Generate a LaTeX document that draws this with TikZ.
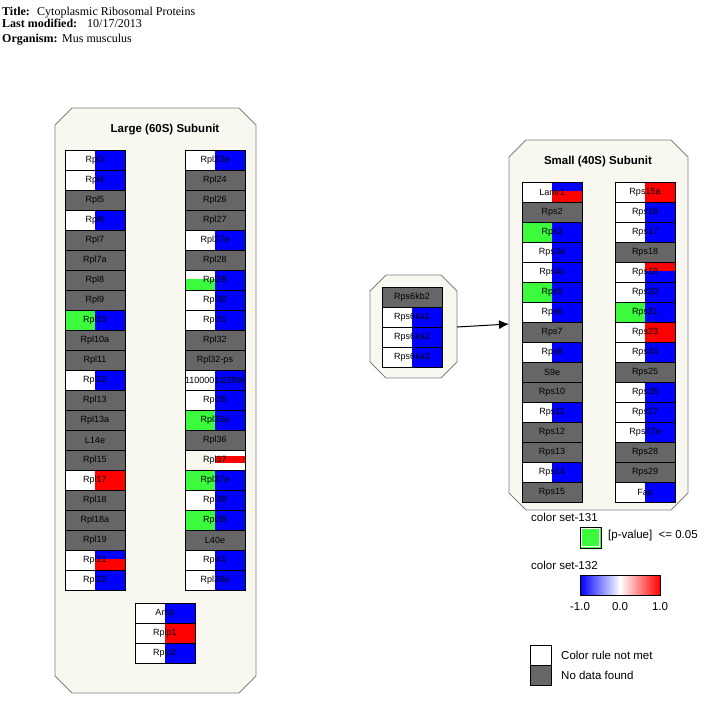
\documentclass[tikz,border=0pt]{standalone}
\usepackage{fontspec}
\setmainfont{Liberation Serif}
\setsansfont{Liberation Sans}
\usetikzlibrary{arrows.meta}
\definecolor{cG}{RGB}{102,102,102}
\definecolor{cN}{RGB}{60,250,60}
\definecolor{cB}{RGB}{0,0,255}
\definecolor{cR}{RGB}{255,0,0}
\definecolor{cW}{RGB}{255,255,255}
\definecolor{boxfill}{RGB}{248,247,240}
\definecolor{boxline}{RGB}{130,130,130}
\newcommand\octbox[5]{%
  \draw[groupbox] ({#1+#5},#2) -- ({#3-#5},#2) -- (#3,{#2+#5}) -- (#3,{#4-#5}) -- ({#3-#5},#4) -- ({#1+#5},#4) -- (#1,{#4-#5}) -- (#1,{#2+#5}) -- cycle;}
\newcommand\cellcol[3]{%
  \foreach \n/\l/\r [count=\i from 0] in {#3} {
    \fill[fill=\l] (#1,{#2+20*\i}) rectangle ++(30,20);
    \fill[fill=\r] ({#1+30},{#2+20*\i}) rectangle ++(30,20);
  }
  \foreach \n/\l/\r [count=\i from 0] in {#3} {
    \draw[black, line width=1.3pt] ({#1+60.8},{#2+20*\i}) -- ++(0,20.8) -- ++(-59.5,0);
    \draw[cellborder] (#1,{#2+20*\i}) rectangle ++(60,20);
    \node[celltext] (\n) at ({#1+30},{#2+20*\i+10}) {\n};
  }}
\begin{document}
\begin{tikzpicture}[x=1pt,y=-1pt,
  celltext/.style={font=\sffamily\fontsize{9}{10}\selectfont, inner sep=0pt, text=black},
  cellborder/.style={draw=black, line width=0.7pt},
  groupbox/.style={fill=boxfill, draw=boxline, line width=0.8pt},
  headlbl/.style={font=\bfseries\fontsize{12}{13}\selectfont, anchor=base west, inner sep=0pt},
  headval/.style={font=\fontsize{12}{13}\selectfont, anchor=base west, inner sep=0pt},
  boxtitle/.style={font=\sffamily\bfseries\fontsize{11.5}{13}\selectfont, inner sep=0pt},
  legtext/.style={font=\sffamily\fontsize{11.5}{13}\selectfont, inner sep=0pt},
  legbox/.style={draw=black, line width=0.8pt}]
\useasboundingbox[fill=white] (0,0) rectangle (717,705);

% header
\node[headlbl] (tl) at (2,15) {Title:};
\node[headval] (tv) at (37,15) {Cytoplasmic Ribosomal Proteins};
\node[headlbl] (ml) at (2,27) {Last modified:};
\node[headval] (mv) at (87,27) {10/17/2013};
\node[headlbl] (ol) at (2,42.5) {Organism:};
\node[headval] (ov) at (62,42.5) {Mus musculus};

% group boxes
\octbox{55}{108}{256}{693}{17}
\octbox{370}{275}{457}{378}{16}
\octbox{509}{140}{688}{510}{17}

\node[boxtitle] (largetitle) at (165,130) {Large (60S) Subunit};
\node[boxtitle] (smalltitle) at (598,162) {Small (40S) Subunit};

% special split cells (pre-fills)
\fill[cB] (95,550) rectangle (125,559);
\fill[cR] (95,559) rectangle (125,570);
\fill[cW] (185,270) rectangle (215,279);
\fill[cN] (185,279) rectangle (215,290);
\fill[cW] (215,450) rectangle (245,470);
\fill[cR] (215,456) rectangle (245,463);
\fill[cB] (552,182) rectangle (582,190.5);
\fill[cR] (552,190.5) rectangle (582,202);
\fill[cR] (645,262) rectangle (675,271);
\fill[cB] (645,271) rectangle (675,282);

\cellcol{65}{150}{Rpl3/cW/cB, Rpl4/cW/cB, Rpl5/cG/cG, Rpl6/cW/cB, Rpl7/cG/cG, Rpl7a/cG/cG, Rpl8/cG/cG, Rpl9/cG/cG, Rpl10/cN/cB, Rpl10a/cG/cG, Rpl11/cG/cG, Rpl12/cW/cB, Rpl13/cG/cG, Rpl13a/cG/cG, L14e/cG/cG, Rpl15/cG/cG, Rpl17/cW/cR, Rpl18/cG/cG, Rpl18a/cG/cG, Rpl19/cG/cG, Rpl21/cW/none, Rpl22/cW/cB}

\cellcol{185}{150}{Rpl23a/cW/cB, Rpl24/cG/cG, Rpl26/cG/cG, Rpl27/cG/cG, Rpl27a/cW/cB, Rpl28/cG/cG, Rpl29/none/cB, Rpl30/cW/cB, Rpl31/cW/cB, Rpl32/cG/cG, Rpl32-ps/cG/cG, 1100001I22Rik/cW/cB, Rpl35/cW/cB, Rpl35a/cN/cB, Rpl36/cG/cG, Rpl37/none/none, Rpl37a/cN/cB, Rpl38/cW/cB, Rpl39/cN/cB, L40e/cG/cG, Rpl41/cW/cB, Rpl36a/cW/cB}

\cellcol{135}{603}{Arbp/cW/cB, Rplp1/cW/cR, Rplp2/cW/cB}

\cellcol{382}{287}{Rps6kb2/cG/cG, Rps6ka1/cW/cB, Rps6ka2/cW/cB, Rps6ka3/cW/cB}

\cellcol{522}{182}{Lamr1/cW/none, Rps2/cG/cG, Rps3/cN/cB, Rps3a/cW/cB, Rps4x/cW/cB, Rps5/cN/cB, Rps6/cW/cB, Rps7/cG/cG, Rps8/cW/cB, S9e/cG/cG, Rps10/cG/cG, Rps11/cW/cB, Rps12/cG/cG, Rps13/cG/cG, Rps14/cW/cB, Rps15/cG/cG}

\cellcol{615}{182}{Rps15a/cW/cR, Rps16/cW/cB, Rps17/cW/cB, Rps18/cG/cG, Rps19/cW/none, Rps20/cW/cB, Rps21/cN/cB, Rps23/cW/cR, Rps24/cW/cB, Rps25/cG/cG, Rps26/cW/cB, Rps27/cW/cB, Rps27a/cW/cB, Rps28/cG/cG, Rps29/cG/cG, Fau/cW/cB}

% connector
\coordinate (arrsrc) at (457,327);
\coordinate (arrdst) at (509,324);
\draw[black, line width=1pt, -{Latex[length=10pt,width=9pt]}] (arrsrc) -- (arrdst);

% legend
\node[legtext, anchor=west] (cs131) at (531,517) {color set-131};
\draw[legbox, fill=cN] (580,527) rectangle (601,548);
\draw[white, line width=0.6pt] (581.5,528.5) rectangle (599.5,546.5);
\node[legtext, anchor=west] (pval) at (608,536) {[p-value]~~<= 0.05};
\node[legtext, anchor=west] (cs132) at (531,565) {color set-132};
\shade[left color=cB, right color=cR, middle color=white] (580,575) rectangle (660,595);
\draw[legbox] (580,575) rectangle (660,595);
\node[legtext] (lm1) at (580,607) {-1.0};
\node[legtext] (l0) at (620,607) {0.0};
\node[legtext] (lp1) at (660,607) {1.0};
\draw[legbox, fill=white] (530,645) rectangle (551,665);
\draw[legbox, fill=cG] (530,665) rectangle (551,685);
\node[legtext, anchor=west] (crnm) at (561,655) {Color rule not met};
\node[legtext, anchor=west] (ndf) at (561,675) {No data found};
\end{tikzpicture}
\end{document}
